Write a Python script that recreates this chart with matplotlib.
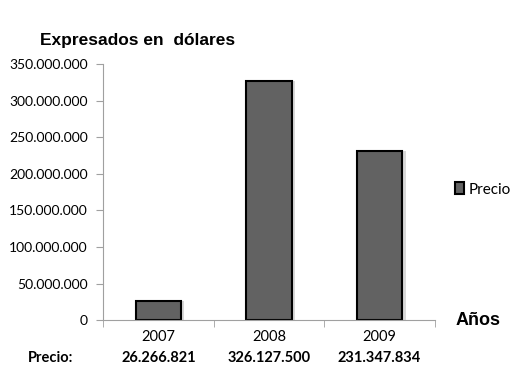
import numpy as np
import matplotlib.pyplot as plt
from matplotlib.ticker import FuncFormatter, FixedLocator

anios = ['2007', '2008', '2009']
precio = [26266821, 326127500, 231347834]
precio_txt = ['26.266.821', '326.127.500', '231.347.834']

fig = plt.figure(figsize=(5.31, 3.88), dpi=100)
ax = fig.add_axes([0.194, 0.175, 0.625, 0.66])

x = np.arange(len(anios))
# sombra
ax.bar(x + 0.03, precio, width=0.41, color='#d8d8d8', zorder=1)
barras = ax.bar(x, precio, width=0.41, color='#626262', edgecolor='black',
                linewidth=1.5, zorder=2, label='Precio')

ax.set_xlim(-0.5, 2.5)
ax.set_ylim(0, 350000000)
ax.set_yticks(np.arange(0, 350000001, 50000000))
ax.yaxis.set_major_formatter(FuncFormatter(lambda v, p: f'{int(v):,}'.replace(',', '.')))
ax.set_xticks(x)
ax.set_xticklabels(anios)
ax.tick_params(axis='x', length=0, pad=7)
ax.xaxis.set_minor_locator(FixedLocator([-0.5, 0.5, 1.5, 2.5]))
ax.tick_params(axis='x', which='minor', length=5, color='#a0a0a0', direction='out')
ax.tick_params(axis='y', length=5, color='#a0a0a0', pad=6)
for lab in ax.get_xticklabels():
    lab.set_fontfamily('Lato')
    lab.set_fontsize(10.5)
for lab in ax.get_yticklabels():
    lab.set_fontfamily('Lato')
    lab.set_fontsize(10)
for s in ['top', 'right']:
    ax.spines[s].set_visible(False)
for s in ['left', 'bottom']:
    ax.spines[s].set_color('#a0a0a0')

fig.text(0.075, 0.895, 'Expresados en  dólares', fontsize=12.5, fontweight='bold',
         family='Liberation Sans', va='center')
fig.text(0.857, 0.175, 'Años', fontsize=13, fontweight='bold',
         family='Liberation Sans', va='center')

leg = ax.legend(loc='center left', bbox_to_anchor=(1.02, 0.51), frameon=False,
                handlelength=0.6, handleheight=0.8, handletextpad=0.3,
                prop={'family': 'Lato', 'size': 11})

# fila de valores bajo el eje
fig.text(0.053, 0.077, 'Precio:', fontsize=10.5, fontweight='bold', family='Lato', va='center')
for xi, t in zip(x, precio_txt):
    ax.text(xi, -0.148, t, transform=ax.get_xaxis_transform(), ha='center', va='center',
            fontsize=10.5, fontweight='bold', family='Lato')

fig.savefig('out.png', dpi=100)
